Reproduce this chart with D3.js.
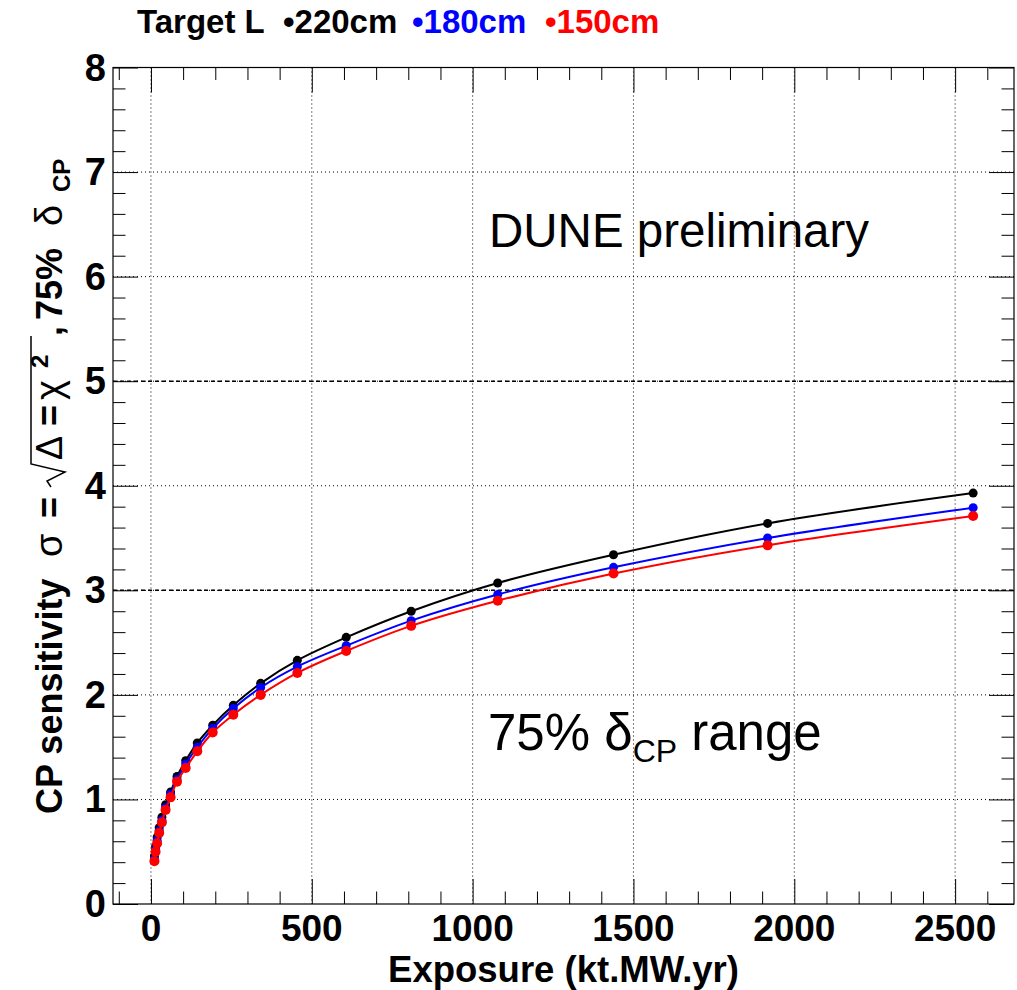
<!DOCTYPE html>
<html><head><meta charset="utf-8">
<script src="https://cdn.jsdelivr.net/npm/d3@7"></script>
<style>body{margin:0;background:#fff}svg{display:block}</style>
</head><body>
<svg id="c" width="1017" height="990"></svg>
<script>
// exposure values (kt.MW.yr)
const exposure = [10.8, 14.4, 19.2, 25.6, 34, 45.5, 61, 81, 108, 144, 192, 256, 341, 455, 607, 809, 1078, 1438, 1917, 2556];
const sigma220 = [0.46, 0.55, 0.64, 0.73, 0.83, 0.95, 1.07, 1.22, 1.37, 1.54, 1.71, 1.90, 2.11, 2.33, 2.55, 2.80, 3.07, 3.34, 3.64, 3.93];
const sigma180 = [0.43, 0.52, 0.61, 0.70, 0.80, 0.92, 1.05, 1.19, 1.34, 1.50, 1.68, 1.87, 2.07, 2.27, 2.47, 2.71, 2.96, 3.22, 3.50, 3.79];
const sigma150 = [0.41, 0.50, 0.58, 0.68, 0.78, 0.90, 1.02, 1.17, 1.30, 1.46, 1.64, 1.81, 2.00, 2.21, 2.42, 2.66, 2.90, 3.16, 3.43, 3.71];
const seriesNames = ["220cm", "180cm", "150cm"];
const seriesColors = ["#000000", "#0000ff", "#ff0000"];
const xTicks = [0, 500, 1000, 1500, 2000, 2500];
const yTicks = [0, 1, 2, 3, 4, 5, 6, 7, 8];
const refLines = [3, 5];

const svg = d3.select("#c");
const L = 113, R = 1014, T = 67.5, B = 904;
const x = d3.scaleLinear().domain([-118, 2683]).range([L, R]);
const y = d3.scaleLinear().domain([0, 8]).range([B, T]);
const font = "'Liberation Sans', Arial, Helvetica, sans-serif";

// grid
const grid = svg.append("g").attr("stroke", "#000").attr("stroke-width", 1).attr("stroke-dasharray", "1,3");
xTicks.forEach(v => grid.append("line").attr("x1", x(v)).attr("x2", x(v)).attr("y1", T).attr("y2", B));
yTicks.slice(1, -1).forEach(v => grid.append("line").attr("x1", L).attr("x2", R).attr("y1", y(v)).attr("y2", y(v)));

// reference dashed lines
refLines.forEach(v => svg.append("line").attr("x1", L).attr("x2", R).attr("y1", y(v)).attr("y2", y(v))
  .attr("stroke", "#000").attr("stroke-width", 1.6).attr("stroke-dasharray", "4,3"));

// axes ticks (inside, on all four sides)
const xMinor = d3.range(-100, 2700, 100).filter(v => v % 500 !== 0);
const yMinor = d3.range(0, 8.01, 0.2).map(v => +v.toFixed(1)).filter(v => Math.abs(v - Math.round(v)) > 1e-6);
const noDomain = g => g.select(".domain").remove();
svg.append("g").attr("transform", `translate(0,${B})`).call(d3.axisTop(x).tickValues(xTicks).tickSize(25).tickFormat("")).call(noDomain);
svg.append("g").attr("transform", `translate(0,${B})`).call(d3.axisTop(x).tickValues(xMinor).tickSize(12.5).tickFormat("")).call(noDomain);
svg.append("g").attr("transform", `translate(0,${T})`).call(d3.axisBottom(x).tickValues(xTicks).tickSize(25).tickFormat("")).call(noDomain);
svg.append("g").attr("transform", `translate(0,${T})`).call(d3.axisBottom(x).tickValues(xMinor).tickSize(12.5).tickFormat("")).call(noDomain);
svg.append("g").attr("transform", `translate(${L},0)`).call(d3.axisRight(y).tickValues(yTicks).tickSize(25).tickFormat("")).call(noDomain);
svg.append("g").attr("transform", `translate(${L},0)`).call(d3.axisRight(y).tickValues(yMinor).tickSize(12.5).tickFormat("")).call(noDomain);
svg.append("g").attr("transform", `translate(${R},0)`).call(d3.axisLeft(y).tickValues(yTicks).tickSize(25).tickFormat("")).call(noDomain);
svg.append("g").attr("transform", `translate(${R},0)`).call(d3.axisLeft(y).tickValues(yMinor).tickSize(12.5).tickFormat("")).call(noDomain);

// frame
svg.append("rect").attr("x", L).attr("y", T).attr("width", R - L).attr("height", B - T)
  .attr("fill", "none").attr("stroke", "#000").attr("stroke-width", 1.2);

// tick labels
svg.append("g").selectAll("text").data(xTicks).join("text")
  .attr("x", d => x(d)).attr("y", 941).attr("text-anchor", "middle")
  .attr("font-family", font).attr("font-weight", "bold").attr("font-size", 37).text(d => d);
svg.append("g").selectAll("text").data(yTicks).join("text")
  .attr("x", 106).attr("y", d => y(d) + 13).attr("text-anchor", "end")
  .attr("font-family", font).attr("font-weight", "bold").attr("font-size", 38).text(d => d);

// x title
svg.append("text").attr("x", (L + R) / 2).attr("y", 982).attr("text-anchor", "middle")
  .attr("font-family", font).attr("font-weight", "bold").attr("font-size", 36.5).text("Exposure (kt.MW.yr)");

// y title (rotated)
const yt = svg.append("g").attr("transform", "translate(62,814) rotate(-90)")
  .attr("font-family", font).attr("font-weight", "bold").attr("font-size", 36).attr("fill", "#000");
yt.append("text").attr("x", 0).text("CP sensitivity");
yt.append("text").attr("x", 257).attr("font-weight", "normal").attr("font-size", 38).text("σ");
yt.append("text").attr("x", 296).text("=");
yt.append("path").attr("d", "M327,-11 L333,-15 L342,3 L350,-31 L478,-31").attr("fill", "none").attr("stroke", "#000").attr("stroke-width", 1.5);
yt.append("text").attr("x", 354).attr("font-weight", "normal").text("Δ");
yt.append("text").attr("x", 388).text("=");
yt.append("text").attr("x", 414).attr("font-weight", "normal").attr("font-size", 38).text("χ");
yt.append("text").attr("x", 446).attr("y", -14).attr("font-size", 24).text("2");
yt.append("text").attr("x", 478).text(",");
yt.append("text").attr("x", 494).text("75%");
yt.append("text").attr("x", 588).attr("font-weight", "normal").attr("font-size", 38).text("δ");
yt.append("text").attr("x", 622).attr("y", 8).attr("font-size", 24).text("CP");

// curves
const sets = [sigma220, sigma180, sigma150];
const line = d3.line().x(d => x(d[0])).y(d => y(d[1])).curve(d3.curveCatmullRom.alpha(0.5));
sets.forEach((s, i) => {
  const pts = exposure.map((e, k) => [e, s[k]]);
  svg.append("path").datum(pts).attr("d", line).attr("fill", "none")
    .attr("stroke", seriesColors[i]).attr("stroke-width", 2);
  svg.append("g").selectAll("circle").data(pts).join("circle")
    .attr("cx", d => x(d[0])).attr("cy", d => y(d[1])).attr("r", i === 2 ? 5 : 4.5)
    .attr("fill", seriesColors[i]);
});

// legend
const lg = svg.append("g").attr("font-family", font).attr("font-weight", "bold").attr("font-size", 33);
lg.append("text").attr("x", 137).attr("y", 33).text("Target L");
const legX = [283, 412, 545];
seriesNames.forEach((n, i) => lg.append("text").attr("x", legX[i]).attr("y", 33).attr("fill", seriesColors[i]).text("•" + n));

// annotations
svg.append("text").attr("x", 489).attr("y", 247).attr("font-family", font).attr("font-size", 47.5).text("DUNE preliminary");
const ann = svg.append("text").attr("x", 488).attr("y", 750).attr("font-family", font).attr("font-size", 51);
ann.append("tspan").text("75% ");
ann.append("tspan").text("δ");
ann.append("tspan").attr("font-size", 32).attr("dy", 12).text("CP");
ann.append("tspan").attr("dy", -12).text(" range");
</script>
</body></html>
